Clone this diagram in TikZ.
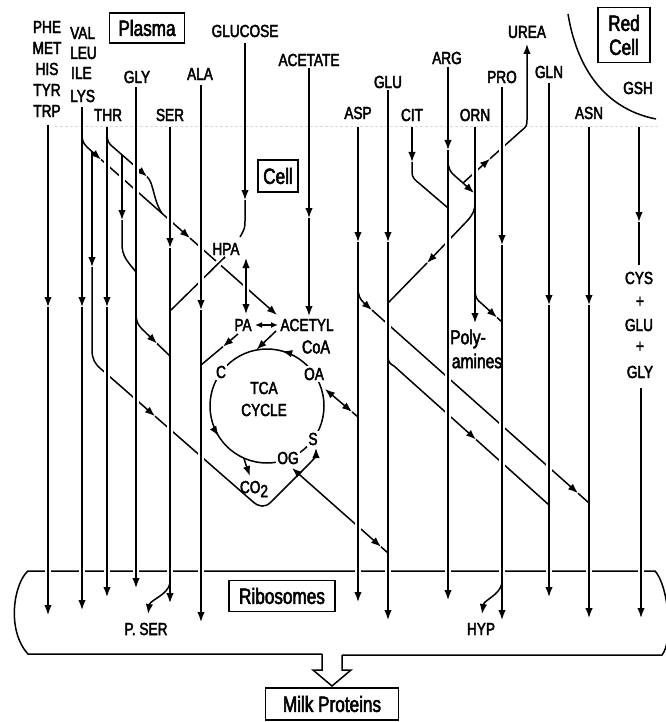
\documentclass[tikz,border=0pt]{standalone}
\usepackage{fontspec}
\setmainfont{Liberation Sans}[FakeStretch=0.78,FakeBold=2.5]
\usetikzlibrary{arrows.meta}
\newcommand\vb[2]{%
  \draw[white,line width=6.5pt] (#1,#2-7) -- (#1,#2+7);
  \draw[ln] (#1,#2-9) -- (#1,#2+9);}
\begin{document}
\begin{tikzpicture}[x=1pt,y=-1pt,
  ln/.style={line width=1.5pt},
  ar/.style={ln,-{Latex[length=10pt,width=7.5pt]}},
  dar/.style={ln,{Latex[length=10pt,width=7.5pt]}-{Latex[length=10pt,width=7.5pt]}},
  sdar/.style={ln,{Latex[length=7pt,width=6pt]}-{Latex[length=7pt,width=6pt]}},
  lab/.style={inner sep=0pt,font=\fontsize{17.5}{19}\selectfont},
  labl/.style={inner sep=0pt,font=\fontsize{20}{21}\selectfont},
  ring/.style={lab,fill=white,inner sep=1.5pt},
  tbox/.style={draw,line width=1.9pt,inner sep=0pt,align=center,font=\fontsize{22}{24}\selectfont},
]
\fill[white] (0,0) rectangle (665,722);
\useasboundingbox (0,0) rectangle (665,722);

% faint membrane
\draw[black!15,line width=0.8pt,dash pattern=on 3pt off 2pt] (55,126) -- (660,126);

% ---------- labels ----------
\node[lab] (phe) at (47,27) {PHE};
\node[lab] (met) at (47,48) {MET};
\node[lab] (his) at (47,69) {HIS};
\node[lab] (tyr) at (47,90) {TYR};
\node[lab] (trp) at (47,111) {TRP};
\node[lab,anchor=west] (val) at (70,33) {VAL};
\node[lab,anchor=west] (leu) at (70,53) {LEU};
\node[lab,anchor=west] (ile) at (71,73) {ILE};
\node[lab,anchor=west] (lys) at (70,96) {LYS};
\node[tbox,minimum width=75pt,minimum height=30pt] (plasma) at (147,28) {Plasma};
\node[lab] (glucose) at (245,31) {GLUCOSE};
\node[lab] (acetate) at (309,60) {ACETATE};
\node[lab] (gly) at (137,77) {GLY};
\node[lab] (ala) at (200,74) {ALA};
\node[lab] (thr) at (108,115) {THR};
\node[lab] (ser) at (170,115) {SER};
\node[lab] (asp) at (358,113) {ASP};
\node[lab] (glu) at (388,82) {GLU};
\node[lab] (cit) at (412,115) {CIT};
\node[lab] (arg) at (447,58) {ARG};
\node[lab] (orn) at (475,115) {ORN};
\node[lab] (pro) at (502,77) {PRO};
\node[lab] (urea) at (527,32) {UREA};
\node[lab] (gln) at (549,72) {GLN};
\node[lab] (asn) at (589,113) {ASN};
\node[lab] (gsh) at (638,88) {GSH};
\node[tbox,minimum width=52pt,minimum height=55pt] (redcell) at (624,35) {Red\\Cell};
\node[tbox,minimum width=40pt,minimum height=32pt] (cell) at (278,176) {Cell};
\draw[ln] (568,14) .. controls (578,75) and (610,110) .. (656,119);

\node[lab] (hpa) at (226,249) {HPA};
\node[lab] (pa) at (243,325) {PA};
\node[lab] (acetyl) at (307,325) {ACETYL};
\node[inner sep=0pt,font=\fontsize{18.5}{19}\selectfont] (coa) at (316,347) {CoA};
\node[lab] (tca) at (264,388) {TCA};
\node[lab] (cycle) at (264,410) {CYCLE};
\node[lab] (co2) at (254,489) {CO\raisebox{-4pt}{2}};
\node[labl] (poly) at (468,339) {Poly-};
\node[labl] (amines) at (477,361) {amines};
\node[lab] (cys) at (639,278) {CYS};
\node[lab] (pl1) at (640,302) {+};
\node[lab] (glu2) at (639,325) {GLU};
\node[lab] (pl2) at (640,347) {+};
\node[lab] (gly2) at (640,372) {GLY};
\node[tbox,minimum width=106pt,minimum height=31pt] (ribo) at (282,596) {Ribosomes};
\node[lab] (pser) at (146,629) {P. SER};
\node[lab] (hyp) at (481,629) {HYP};
\node[tbox,minimum width=133pt,minimum height=32pt] (milk) at (332,704) {Milk Proteins};

% ---------- ribosome compartment ----------
\draw[ln] (322,654) -- (28,654) .. controls (6,630) and (14,583) .. (28,571) -- (655,571)
   .. controls (668,585) and (674,640) .. (662,655) -- (342,655);
\draw[ln,fill=white,line join=miter] (322,654) -- (322,670) -- (313,670) -- (332,686) -- (351,670) -- (342,670) -- (342,655);

% ---------- diagonals (under) ----------
% LYS -> acetyl CoA
\draw[ar] (82,134) .. controls (82,142) and (84,144) .. (88,148) -- (101,159.5);
\draw[ar] (101,159.5) -- (190,238.1);
\draw[ar] (190,238.1) -- (277,315);
% THR diagonal
\draw[ar] (107,134) .. controls (107,141) and (109,144) .. (113,147) -- (147,176.6);
\draw[ln] (147,176.6) .. controls (154,183) and (153,200) .. (162,213.4);
% THR -> GLY
\draw[ar] (122,154.8) -- (122,220);
\draw[ln] (122,220) -- (122,244) .. controls (122,256) and (127,261) .. (136,272);
% LYS -> S
\draw[ar] (92,151.5) -- (92,267);
\draw[ar] (92,267) -- (92,350) .. controls (92,359) and (95,364) .. (101,369) -- (155,416.2);
\draw[ar] (155,416.2) -- (253,501.8) .. controls (259,507) and (265,508) .. (271,502)
   -- (309,464) .. controls (313,460) and (316,456) .. (316,448);
% GLY -> SER
\draw[ar] (136,314) .. controls (136,321) and (138,325) .. (142,329) -- (157,343.5);
\draw[ln] (157,343.5) -- (170,356);
% SER -> HPA
\draw[ln] (171,310) -- (225,257);
% PA -> ALA
\draw[ar] (238,334) -- (223,346.6);
\draw[ln] (223,346.6) -- (201,365);
% PA <-> ACETYL
\draw[sdar] (255,325) -- (278,325);
% ACETYL -> cycle
\draw[ar] (276,331) -- (256.5,349.6);

% TCA cycle
\draw[ln] (267,406) circle[radius=57pt];
\draw[ar] (284.1,351.6) -- (282.2,351.1);
\draw[ar] (217.5,434.3) -- (218.6,436);
\draw[ar] (243.8,458.1) .. controls (246,465) .. (250,476);
\node[ring] (c) at (221,372) {C};
\node[ring] (oa) at (314,374) {OA};
\node[ring] (s) at (313,439) {S};
\node[ring] (og) at (288,458) {OG};
% OA <-> ASP, OG <-> GLU
\draw[dar] (325,389) -- (352,411.9);
\draw[ln] (352,411.9) -- (358,417);
\draw[dar] (292,468) -- (381,546.8);
\draw[ln] (381,546.8) -- (388,553);

% ASP -> ASN
\draw[ar] (358,287) .. controls (358,296) and (360,299) .. (364,303) -- (372,310.1);
\draw[ar] (372,310.1) -- (578,493.2);
\draw[ln] (578,493.2) -- (589,503);
% GLU -> GLN
\draw[ar] (388,356) .. controls (388,362) and (390,364) .. (394,366) -- (476,439.5);
\draw[ln] (476,439.5) -- (549,505);
% ORN -> GLU
\draw[ar] (475,203) .. controls (475,210) and (473,214) .. (468,220) -- (427,263);
\draw[ln] (427,263) -- (388,303);
% CIT -> ARG
\draw[ar] (412,127) -- (412,162);
\draw[ln] (412,162) -- (412,172) .. controls (412,178) and (415,180) .. (420,184) -- (448,208);
% ARG -> ORN / UREA
\coordinate (J) at (463,183);
\draw[ln] (448,160) .. controls (448,168) and (450,172) .. (455,176) -- (J);
\draw[ar] (J) -- (474,193);
\draw[ar] (J) -- (490,158.7);
\draw[ar] (490,158.7) -- (521,131) .. controls (527,126) .. (527,118) -- (527,44);
% ORN -> PRO
\draw[ar] (475,290) .. controls (475,297) and (477,300) .. (481,303) -- (497,317.5);
\draw[ln] (497,317.5) -- (502,322);

% ---------- verticals ----------
\draw[ar] (48,125) -- (48,307); \draw[ar] (48,307) -- (48,615);
\draw[ar] (82,107) -- (82,307); \draw[ar] (82,307) -- (82,610);
\draw[ar] (107,127) -- (107,307); \draw[ar] (107,307) -- (107,597);
\draw[ar] (136,87) -- (136,588);
\draw[ar] (170,127) -- (170,248); \draw[ar] (170,248) -- (170,603);
\draw[ar] (201,85) -- (201,310); \draw[ar] (201,310) -- (201,622);
\draw[ar] (245,43) -- (245,200);
\draw[ln] (245,200) -- (245,220) .. controls (245,228) .. (240,237);
\draw[dar] (246,258) -- (246,314);
\draw[ar] (309,68) -- (309,218); \draw[ar] (309,218) -- (309,316);
\draw[ar] (358,127) -- (358,242); \draw[ar] (358,242) -- (358,602);
\draw[ar] (388,90) -- (388,242); \draw[ar] (388,242) -- (388,620);
\draw[ar] (448,67) -- (448,150); \draw[ar] (448,150) -- (448,600);
\draw[ar] (475,127) -- (475,323);
\draw[ar] (502,87) -- (502,245); \draw[ar] (502,245) -- (502,620);
\draw[ar] (549,83) -- (549,305); \draw[ar] (549,305) -- (549,597);
\draw[ar] (589,127) -- (589,305); \draw[ar] (589,305) -- (589,618);
\draw[ar] (639,127) -- (639,222); \draw[ln] (639,222) -- (639,265);
\draw[ar] (641,388) -- (641,618);
% P. SER, HYP
\draw[ar] (170,583) .. controls (168,595) and (150,600) .. (148,614);
\draw[ar] (502,583) .. controls (500,595) and (484,600) .. (482,614);

% ---------- bridges ----------
\vb{107}{164.8}\vb{122}{178}\vb{136}{190.4}\vb{170}{220.5}\vb{201}{247.8}\vb{246}{287.6}
\vb{136}{167}
\vb{107}{374.2}\vb{136}{399.6}\vb{170}{429.3}\vb{201}{456.4}
\vb{388}{324.3}\vb{448}{377.7}\vb{502}{425.7}\vb{549}{467.4}
\vb{448}{414.4}\vb{502}{462.9}
\vb{448}{241}
\vb{475}{172.2}\vb{502}{148}
\vb{358}{526.4}
\vb{201}{280.6}
\foreach \xx in {48,82,107,136,170,201,358,388,448,502,549,589,641}{\vb{\xx}{571}}
% SER->HPA over LYS diagonal
\draw[white,line width=6.5pt] (213.5,268.2) -- (223.5,258.4);
\draw[ln] (212,269.6) -- (225,257);
\end{tikzpicture}
\end{document}
